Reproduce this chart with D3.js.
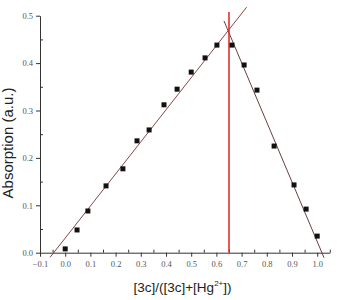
<!DOCTYPE html>
<html><head><meta charset="utf-8">
<script src="https://cdn.jsdelivr.net/npm/d3@7"></script>
<style>body{margin:0;background:#fff}</style>
</head><body>
<svg id="c" width="337" height="300"></svg>
<script>
const molFraction = [0.0, 0.047, 0.09, 0.162, 0.229, 0.285, 0.333, 0.392, 0.444, 0.5, 0.555, 0.602, 0.662, 0.71, 0.761, 0.829, 0.908, 0.956, 1.0];
const absorption  = [0.008, 0.048, 0.088, 0.141, 0.177, 0.236, 0.259, 0.312, 0.345, 0.381, 0.411, 0.438, 0.438, 0.396, 0.343, 0.225, 0.143, 0.092, 0.035];
const fitLeftX  = [-0.060, 0.720];
const fitLeftY  = [-0.0097, 0.518];
const fitRightX = [0.630, 1.027];
const fitRightY = [0.489, -0.0105];
const crossX = 0.65;
const crossY = [0, 0.508];
const xTicks = [-0.1,0.0,0.1,0.2,0.3,0.4,0.5,0.6,0.7,0.8,0.9,1.0];
const yTicks = [0.0,0.1,0.2,0.3,0.4,0.5];

const svg = d3.select("#c");
const x = d3.scaleLinear().domain([-0.1, 1.05]).range([40, 329.8]);
const y = d3.scaleLinear().domain([0, 0.5]).range([252.7, 15.7]);

const axisCol = "#333";
// minor ticks
const xMinor = d3.range(-0.05, 1.06, 0.1).map(v => +v.toFixed(2));
const yMinor = d3.range(0.05, 0.5, 0.1).map(v => +v.toFixed(2));

// X axis
const gx = svg.append("g").attr("transform", `translate(0,${y(0)})`)
  .call(d3.axisBottom(x).tickValues(xTicks).tickSize(4).tickSizeOuter(0).tickFormat(d3.format(".1f")));
gx.select(".domain").attr("stroke", axisCol);
gx.selectAll(".tick line").attr("stroke", axisCol);
gx.selectAll("text").attr("font-family", "Liberation Serif").attr("font-size", 8.5).attr("fill", "#555").attr("dy", "0.9em");
svg.append("g").attr("transform", `translate(0,${y(0)})`)
  .call(d3.axisBottom(x).tickValues(xMinor).tickSize(-3).tickFormat(""))
  .call(g => g.select(".domain").remove())
  .selectAll("line").attr("stroke", axisCol);

// Y axis
const gy = svg.append("g").attr("transform", `translate(${x(-0.1)},0)`)
  .call(d3.axisLeft(y).tickValues(yTicks).tickSize(4).tickSizeOuter(0).tickFormat(d3.format(".1f")));
gy.select(".domain").attr("stroke", axisCol);
gy.selectAll(".tick line").attr("stroke", axisCol);
gy.selectAll("text").attr("font-family", "Liberation Serif").attr("font-size", 8.5).attr("fill", "#555");
svg.append("g").attr("transform", `translate(${x(-0.1)},0)`)
  .call(d3.axisLeft(y).tickValues(yMinor).tickSize(-3).tickFormat(""))
  .call(g => g.select(".domain").remove())
  .selectAll("line").attr("stroke", axisCol);

// fit lines
const line = d3.line().x(d => x(d[0])).y(d => y(d[1]));
svg.append("path").attr("d", line(d3.zip(fitLeftX, fitLeftY)))
  .attr("stroke", "#8a4545").attr("stroke-width", 1).attr("fill", "none");
svg.append("path").attr("d", line(d3.zip(fitRightX, fitRightY)))
  .attr("stroke", "#6a4040").attr("stroke-width", 1).attr("fill", "none");

// vertical red line
svg.append("line").attr("x1", x(crossX)).attr("x2", x(crossX))
  .attr("y1", y(crossY[0])).attr("y2", y(crossY[1]))
  .attr("stroke", "#e2302c").attr("stroke-width", 1.6);

// points
svg.append("g").selectAll("rect").data(d3.zip(molFraction, absorption)).join("rect")
  .attr("x", d => x(d[0]) - 2.5).attr("y", d => y(d[1]) - 2.5)
  .attr("width", 5).attr("height", 5).attr("fill", "#111");

// axis titles
svg.append("text").attr("transform", "translate(13,143) rotate(-90)")
  .attr("text-anchor", "middle").attr("font-family", "Liberation Sans").attr("font-size", 15)
  .attr("fill", "#222").text("Absorption (a.u.)");
const xl = svg.append("text").attr("x", 182.5).attr("y", 292)
  .attr("text-anchor", "middle").attr("font-family", "Liberation Sans").attr("font-size", 13.5).attr("fill", "#222");
xl.append("tspan").text("[3c]/([3c]+[Hg");
xl.append("tspan").attr("font-size", 8).attr("dy", -6).text("2+");
xl.append("tspan").attr("dy", 6).text("])");
</script>
</body></html>
